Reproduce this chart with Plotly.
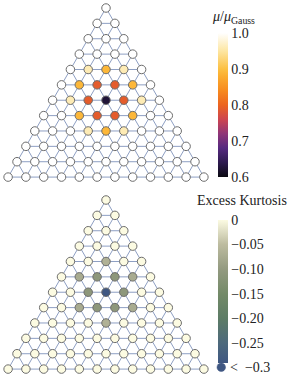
import numpy as np
import plotly.graph_objects as go

# ---- data ----
mu_rows = [
    [1.0],
    [1.0, 1.0],
    [1.0, 1.0, 1.0],
    [1.0, 1.0, 1.0, 1.0],
    [1.0, 0.96, 0.89, 0.96, 1.0],
    [1.0, 0.89, 0.79, 0.79, 0.89, 1.0],
    [1.0, 0.96, 0.79, 0.625, 0.79, 0.96, 1.0],
    [1.0, 1.0, 0.89, 0.79, 0.79, 0.89, 1.0, 1.0],
    [1.0, 1.0, 1.0, 0.96, 0.89, 0.96, 1.0, 1.0, 1.0],
    [1.0] * 10,
    [1.0] * 11,
    [1.0] * 12,
]
kurt_rows = [
    [0.0],
    [0.0, 0.0],
    [0.0, 0.0, 0.0],
    [0.0, 0.0, 0.0, 0.0],
    [0.0, 0.0, -0.065, 0.0, 0.0],
    [0.0, -0.075, -0.11, -0.11, -0.075, 0.0],
    [0.0, 0.0, -0.11, -0.35, -0.11, 0.0, 0.0],
    [0.0, 0.0, -0.075, -0.11, -0.11, -0.075, 0.0, 0.0],
    [0.0, 0.0, 0.0, 0.0, -0.065, 0.0, 0.0, 0.0, 0.0],
    [0.0] * 10,
    [0.0] * 11,
    [0.0] * 12,
]
mu_ticks = [0.6, 0.7, 0.8, 0.9, 1.0]
mu_ticktext = ["0.6", "0.7", "0.8", "0.9", "1.0"]
kurt_ticks = [0.0, -0.05, -0.10, -0.15, -0.20, -0.25]
kurt_ticktext = ["0", "\u22120.05", "\u22120.10", "\u22120.15", "\u22120.20", "\u22120.25"]
kurt_floor = -0.3

sunset = [
    [0.0, "#0b0a12"], [0.1, "#2d1a4f"], [0.2, "#55297f"], [0.3, "#8f3578"],
    [0.4, "#cd4550"], [0.5, "#ec6420"], [0.6, "#f78a1f"], [0.7, "#fbad30"],
    [0.75, "#fcc042"], [0.875, "#fde6a2"], [1.0, "#ffffff"],
]
kurt_scale = [
    [0.0, "#3f5782"], [0.14, "#4d697c"], [0.31, "#5d7c66"], [0.48, "#738a68"],
    [0.655, "#939a80"], [0.83, "#bdbca0"], [1.0, "#fcfbe2"],
]
below_color = "#3f5782"
edge_color = "#8e9fc3"
node_line = "#6c6c6c"
font = "Liberation Serif"

H = np.sqrt(3) / 2


def lattice(rows):
    xs, ys, vs = [], [], []
    for r, row in enumerate(rows):
        for k, v in enumerate(row):
            xs.append(k - r / 2)
            ys.append(-r * H)
            vs.append(v)
    ex, ey = [], []
    n = len(rows)
    for r in range(n):
        for k in range(r + 1):
            x0, y0 = k - r / 2, -r * H
            if k < r:
                ex += [x0, x0 + 1, None]
                ey += [y0, y0, None]
            if r < n - 1:
                for dk in (0, 1):
                    x1 = (k + dk) - (r + 1) / 2
                    ex += [x0, x1, None]
                    ey += [y0, -(r + 1) * H, None]
    return np.array(xs), np.array(ys), np.array(vs), ex, ey


MS = 8.5
fig = go.Figure()

# top panel
x, y, v, ex, ey = lattice(mu_rows)
fig.add_trace(go.Scatter(x=ex, y=ey, mode="lines", line=dict(color=edge_color, width=1),
                         hoverinfo="skip", xaxis="x", yaxis="y"))
fig.add_trace(go.Scatter(
    x=x, y=y, mode="markers", xaxis="x", yaxis="y",
    marker=dict(size=MS, color=v, colorscale=sunset, cmin=0.6, cmax=1.0,
                line=dict(color=node_line, width=1),
                colorbar=dict(thickness=10, thicknessmode="pixels", len=0.375, lenmode="fraction",
                              x=0.749, xanchor="left", y=0.539, yanchor="bottom", xpad=0, ypad=0,
                              outlinewidth=0, ticks="", tickvals=mu_ticks, ticktext=mu_ticktext,
                              tickfont=dict(family=font, size=14, color="#222")))))

# bottom panel
x, y, v, ex, ey = lattice(kurt_rows)
fig.add_trace(go.Scatter(x=ex, y=ey, mode="lines", line=dict(color=edge_color, width=1),
                         hoverinfo="skip", xaxis="x2", yaxis="y2"))
ok = v >= kurt_floor
fig.add_trace(go.Scatter(
    x=x[ok], y=y[ok], mode="markers", xaxis="x2", yaxis="y2",
    marker=dict(size=MS, color=v[ok], colorscale=kurt_scale, cmin=-0.29, cmax=0.0,
                line=dict(color=node_line, width=1),
                colorbar=dict(thickness=10, thicknessmode="pixels", len=0.3715, lenmode="fraction",
                              x=0.749, xanchor="left", y=0.0555, yanchor="bottom", xpad=0, ypad=0,
                              outlinewidth=0, ticks="", tickvals=kurt_ticks, ticktext=kurt_ticktext,
                              tickfont=dict(family=font, size=14, color="#222")))))
fig.add_trace(go.Scatter(
    x=x[~ok], y=y[~ok], mode="markers", xaxis="x2", yaxis="y2",
    marker=dict(size=MS, color=below_color, line=dict(color=node_line, width=1))))

xr = [-5.955, 10.393]
yr = [-10.366, 0.4507]
ax = dict(visible=False, showgrid=False, zeroline=False, fixedrange=True)
fig.update_layout(
    width=291, height=384, margin=dict(l=0, r=0, t=0, b=0),
    paper_bgcolor="white", plot_bgcolor="white", showlegend=False,
    xaxis=dict(ax, range=xr, domain=[0, 1]),
    yaxis=dict(ax, range=yr, domain=[0.5, 1]),
    xaxis2=dict(ax, range=xr, domain=[0, 1]),
    yaxis2=dict(ax, range=yr, domain=[0, 0.5]),
    font=dict(family=font, color="#222"),
)
fig.add_annotation(text="<i>\u03bc</i>/<i>\u03bc</i><sub>Gauss</sub>", xref="paper", yref="paper",
                   x=233 / 291, y=1 - 17 / 384, xanchor="center", yanchor="middle",
                   showarrow=False, font=dict(family=font, size=14, color="#222"))
fig.add_annotation(text="Excess Kurtosis", xref="paper", yref="paper",
                   x=242 / 291, y=1 - 200 / 384, xanchor="center", yanchor="middle",
                   showarrow=False, font=dict(family=font, size=14, color="#222"))
fig.add_annotation(text="<  \u22120.3", xref="paper", yref="paper",
                   x=228 / 291, y=1 - 367 / 384, xanchor="left", yanchor="middle",
                   showarrow=False, font=dict(family=font, size=14, color="#222"))
fig.add_shape(type="circle", xref="paper", yref="paper",
              x0=217 / 291, x1=225.5 / 291, y0=1 - 371.5 / 384, y1=1 - 363 / 384,
              fillcolor=below_color, line=dict(color=below_color, width=0.5))

fig.write_html("out.html", config={"displayModeBar": False, "staticPlot": True},
               post_script="document.body.style.margin='0px';document.body.style.overflow='hidden';")
